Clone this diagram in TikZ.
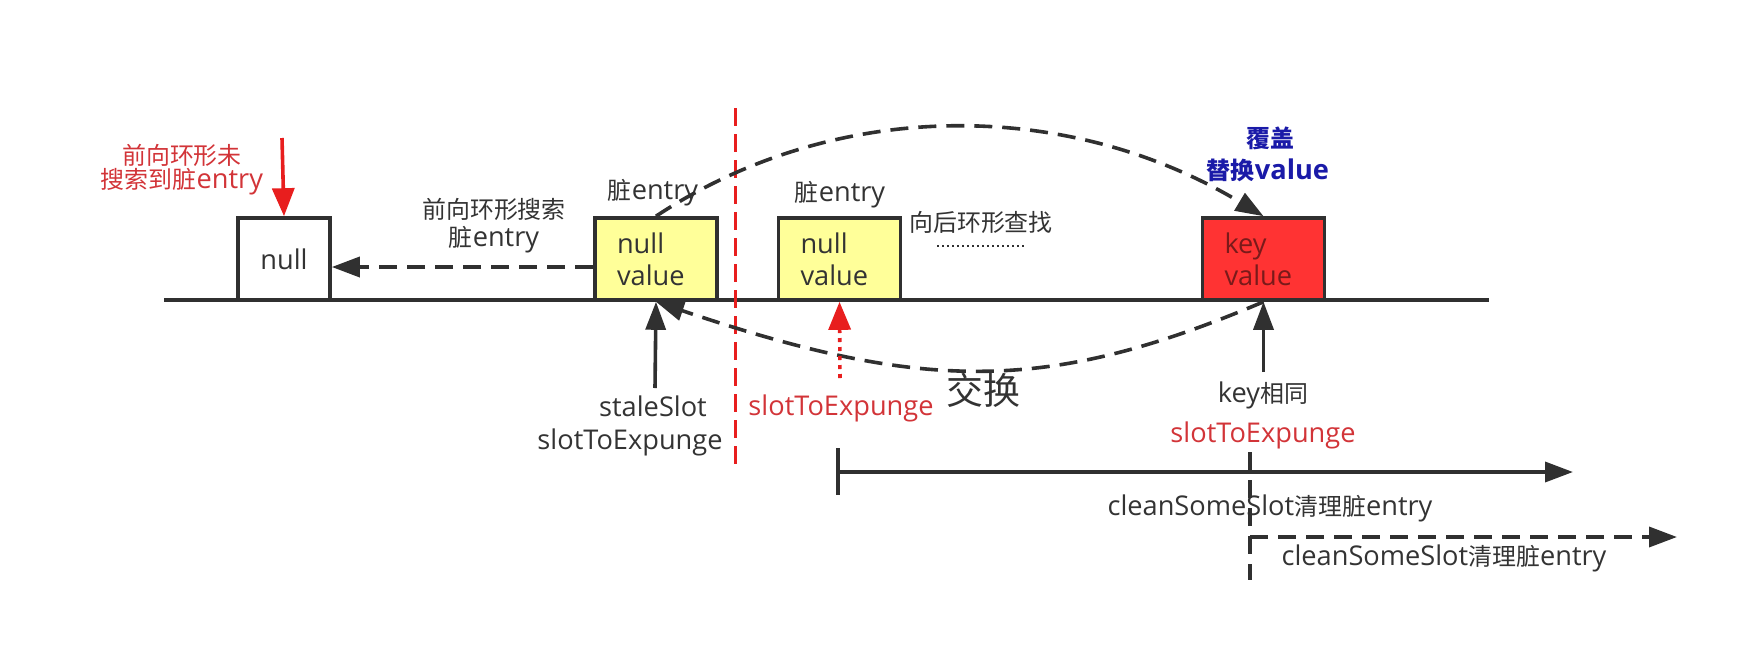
\documentclass[tikz,border=0pt]{standalone}
\usepackage{fontspec}
\usepackage{tikz}
\usetikzlibrary{arrows.meta,positioning,calc}
\setmainfont{Open Sans}
\newfontfamily\cjk[Scale=0.88]{Noto Sans CJK SC}
\newcommand{\zh}[1]{{\cjk #1}}
\definecolor{LineGray}{RGB}{48,48,48}
\definecolor{TextGray}{RGB}{51,51,51}
\definecolor{SlotYellow}{RGB}{255,255,153}
\definecolor{HitRed}{RGB}{255,51,51}
\definecolor{HitText}{RGB}{122,26,26}
\definecolor{MarkRed}{RGB}{232,30,30}
\definecolor{LabelRed}{RGB}{210,52,56}
\definecolor{NoteBlue}{RGB}{26,26,168}
\tikzset{
  slotbox/.style={draw=LineGray, line width=1.8pt, minimum width=61pt, minimum height=41pt,
    text width=39pt, inner xsep=11pt, align=left, text=TextGray},
  nullbox/.style={draw=LineGray, line width=1.8pt, fill=white, minimum width=46pt, minimum height=41pt,
    inner sep=0pt, text=TextGray},
  lbl/.style={inner sep=0pt, text=TextGray},
  redlbl/.style={inner sep=0pt, text=LabelRed},
  solidarrow/.style={draw=LineGray, line width=1.8pt, -{Triangle[length=14pt,width=10pt]}},
  dasharrow/.style={solidarrow, dash pattern=on 9pt off 5pt},
  redarrow/.style={draw=MarkRed, line width=1.8pt, -{Triangle[length=14pt,width=11pt]}},
}

\begin{document}
\begin{tikzpicture}[x=0.5pt, y=-0.5pt, every node/.style={font=\fontsize{13.6pt}{16pt}\selectfont}]
  \useasboundingbox (0,0) rectangle (1742,654);

  % slot array
  \coordinate (axisL) at (164,300);
  \coordinate (axisR) at (1489,300);
  \draw[LineGray, line width=1.8pt] (axisL) -- (axisR);

  \node[nullbox] (nullslot) at (284,259) {null};
  \node[slotbox, fill=SlotYellow] (stale) at (656,259) {null\\value};
  \node[slotbox, fill=SlotYellow] (dirty) at (839.5,259) {null\\value};
  \node[slotbox, fill=HitRed, text=HitText] (hit) at (1263.5,259) {key\\value};

  \draw[MarkRed, line width=1.5pt, dash pattern=on 9pt off 4pt] (735,108) -- (735,467);

  % forward search
  \coordinate (missTop) at (282,138);
  \draw[redarrow] (missTop) -- (nullslot.north);
  \node[redlbl] (missA) at (182,155) {\zh{前向环形未}};
  \node[redlbl] (missB) at (182,182) {\zh{搜索到脏}entry};
  \draw[dasharrow] ([yshift=-4pt]stale.west) -- ([yshift=-4pt]nullslot.east);
  \node[lbl] (backA) at (494,209) {\zh{前向环形搜索}};
  \node[lbl] (backB) at (494,240) {\zh{脏}entry};

  \node[lbl] (staleTag) at (653,193) {\zh{脏}entry};
  \node[lbl] (dirtyTag) at (840,195) {\zh{脏}entry};
  \node[lbl] (seekLbl) at (981,222) {\zh{向后环形查找}};
  \draw[LineGray, line width=0.6pt, dash pattern=on 1pt off 1.5pt] (937,246) -- (1024,246);

  \node[text=NoteBlue, inner sep=0pt] (coverA) at (1270,138) {\bfseries\zh{覆盖}};
  \node[text=NoteBlue, inner sep=0pt] (coverB) at (1268,170) {\bfseries\zh{替换}value};

  % swap
  \draw[dasharrow] (stale.north) .. controls (835,98) and (1067,98) .. (hit.north);
  \draw[dasharrow] (hit.south) .. controls (1048,393) and (926,393) .. (stale.south);
  \node[lbl, font=\fontsize{21pt}{24pt}\selectfont] (swapLbl) at (983,390) {\zh{交换}};

  % pointers
  \coordinate (staleFoot) at (655,388);
  \draw[solidarrow] (staleFoot) -- (stale.south);
  \node[lbl] (staleLbl) at (653,406) {staleSlot};
  \node[lbl] (expA) at (630,442) {slotToExpunge};

  \coordinate (dirtyFoot) at (840,378);
  \draw[redarrow, dash pattern=on 2pt off 2.5pt] (dirtyFoot) -- (dirty.south);
  \node[redlbl] (expB) at (841,408) {slotToExpunge};

  \coordinate (hitFoot) at (1263.5,372);
  \draw[solidarrow] (hitFoot) -- (hit.south);
  \node[lbl] (sameLbl) at (1263,395) {key\zh{相同}};
  \node[redlbl] (expC) at (1263,435) {slotToExpunge};

  % cleanup ranges
  \coordinate (cleanA0) at (838,472);
  \coordinate (cleanA1) at (1573,472);
  \draw[LineGray, line width=1.8pt] (838,448) -- (838,495);
  \draw[solidarrow] (cleanA0) -- (cleanA1);
  \node[lbl] (cleanLblA) at (1270,508) {cleanSomeSlot\zh{清理脏}entry};

  \coordinate (cleanB0) at (1250,537);
  \coordinate (cleanB1) at (1677,537);
  \draw[LineGray, line width=1.8pt, dash pattern=on 9pt off 5pt] (1250,452) -- (1250,580);
  \draw[dasharrow] (cleanB0) -- (cleanB1);
  \node[lbl] (cleanLblB) at (1444,558) {cleanSomeSlot\zh{清理脏}entry};
\end{tikzpicture}
\end{document}
